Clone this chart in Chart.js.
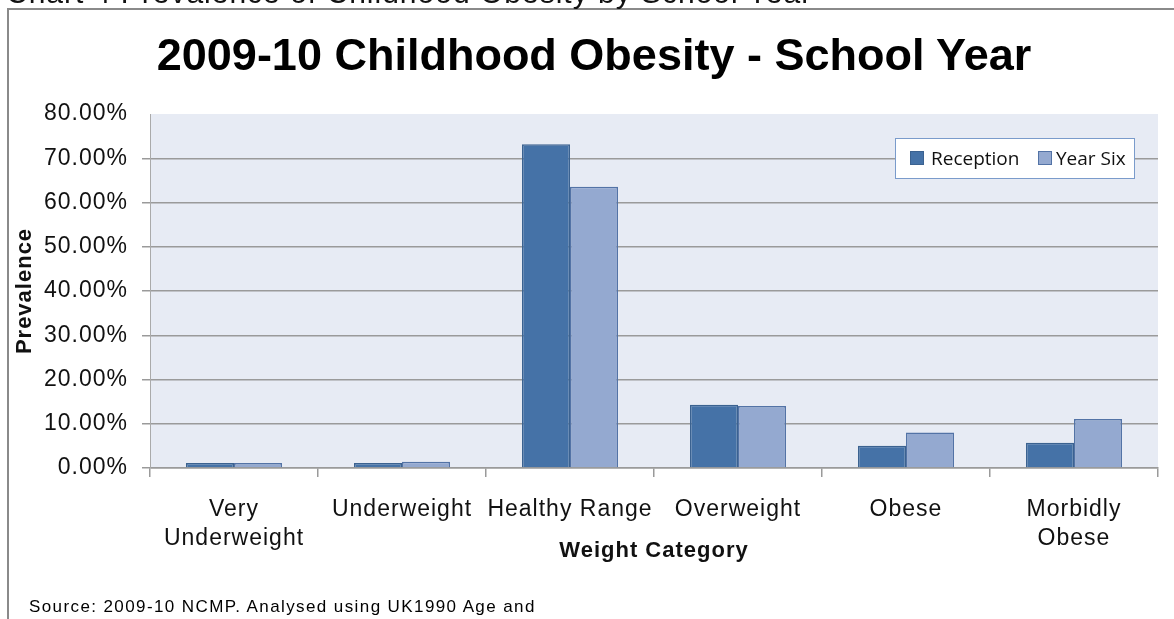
<!DOCTYPE html>
<html>
<head>
<meta charset="utf-8">
<script src="https://cdn.jsdelivr.net/npm/chart.js@4.4.1/dist/chart.umd.min.js"></script>
<style>
  body { margin: 0; overflow: hidden; background: #fff; font-family: "Liberation Sans", Arial, sans-serif; }
  #wrap { position: absolute; left: 0; top: 0; width: 1174px; height: 619px; }
  #frame { position: absolute; left: 7px; top: 8px; width: 1300px; height: 700px; border-top: 2px solid #8a8a8a; border-left: 2px solid #8a8a8a; }
  #caption { position: absolute; left: 6px; top: -22px; font-size: 30px; line-height: 30px; letter-spacing: 1px; color: #111; white-space: nowrap; }
  #title { position: absolute; left: 0; top: 32px; width: 1188px; text-align: center; font-size: 45px; line-height: 45px; font-weight: bold; color: #000; }
  #legend { position: absolute; left: 895px; top: 138px; width: 240px; height: 41px; box-sizing: border-box; border: 1.5px solid #7a9bcb; background: #fff; font-family: "Open Sans", sans-serif; font-size: 19px; color: #111; }
  #legend .sw { position: absolute; top: 12px; width: 14px; height: 14px; box-sizing: border-box; }
  #legend .tx { position: absolute; top: 6px; line-height: 26px; white-space: nowrap; }
  #source { position: absolute; left: 29px; top: 598px; font-size: 17px; line-height: 17px; letter-spacing: 1.4px; color: #000; white-space: nowrap; }
</style>
</head>
<body>
<div id="wrap">
  <canvas id="chartObesity"></canvas>
</div>
<div id="frame"></div>
<div id="caption">Chart 4 Prevalence of Childhood Obesity by School Year</div>
<div id="title">2009-10 Childhood Obesity - School Year</div>
<div id="legend">
  <div class="sw" style="left:14px;background:#4572a7;border:1px solid #3b6290"></div>
  <div class="tx" style="left:35px">Reception</div>
  <div class="sw" style="left:142px;background:#94a9d0;border:1px solid #5373a6"></div>
  <div class="tx" style="left:160px">Year Six</div>
</div>
<div id="source">Source: 2009-10 NCMP. Analysed using UK1990 Age and</div>
<script>
// data (percent)
var categories = [['Very', 'Underweight'], 'Underweight', 'Healthy Range', 'Overweight', 'Obese', ['Morbidly', 'Obese']]
var reception = [1.15, 1.15, 73.15, 14.3, 5.05, 5.7]
var yearSix = [1.15, 1.4, 63.55, 14.0, 8.0, 11.05]
var seriesNames = ['Reception', 'Year Six']
var yMax = 80
var yStep = 10

var fontFamily = '"Liberation Sans", Arial, sans-serif'

// plot background + a little letter spacing like the original
var plotBg = {
  id: 'plotBg',
  beforeDraw: function (chart) {
    var a = chart.chartArea
    var ctx = chart.ctx
    ctx.letterSpacing = '1px'
    ctx.save()
    ctx.fillStyle = '#e7ebf4'
    ctx.fillRect(a.left, a.top, a.right - a.left, a.bottom - a.top)
    ctx.restore()
  }
}

var gridColor = function (c) {
  return c.tick && c.tick.value === yMax ? 'rgba(0,0,0,0)' : '#9a9a9a'
}

var chartObesityCanvas = document.getElementById('chartObesity').getContext('2d')

new Chart(chartObesityCanvas, {
  type: 'bar',
  data: {
    labels: categories,
    datasets: [
      {
        label: seriesNames[0],
        data: reception,
        backgroundColor: '#4572a7',
        borderColor: '#3b6290',
        borderWidth: 1.5
      },
      {
        label: seriesNames[1],
        data: yearSix,
        backgroundColor: '#94a9d0',
        borderColor: '#5373a6',
        borderWidth: 1.5
      }
    ]
  },
  options: {
    responsive: true,
    maintainAspectRatio: false,
    animation: false,
    layout: { padding: { left: 0, right: 16, top: 114, bottom: 0 } },
    datasets: { bar: { barPercentage: 1, categoryPercentage: 0.5714 } },
    plugins: {
      legend: { display: false },
      title: { display: false },
      tooltip: { enabled: false }
    },
    scales: {
      x: {
        grid: { offset: true, drawOnChartArea: false, tickLength: 9, color: '#9a9a9a', lineWidth: 1.5 },
        border: { color: '#9a9a9a', width: 1.5 },
        ticks: {
          autoSkip: false, maxRotation: 0, padding: 18, color: '#111',
          font: { family: fontFamily, size: 23, lineHeight: 1.27 }
        },
        title: {
          display: true, text: 'Weight Category', color: '#111',
          font: { family: fontFamily, size: 22, weight: 'bold', lineHeight: 1.2 },
          padding: { top: 0, bottom: 55 }
        },
        afterFit: function (scale) { scale.height = 151 }
      },
      y: {
        min: 0,
        max: yMax,
        grid: { color: gridColor, tickLength: 8, lineWidth: 1.5 },
        border: { color: '#aaaaaa', width: 1 },
        ticks: {
          stepSize: yStep, padding: 14, color: '#111',
          font: { family: fontFamily, size: 23 },
          callback: function (v) { return v.toFixed(2) + '%' }
        },
        title: {
          display: true, text: 'Prevalence', color: '#111',
          font: { family: fontFamily, size: 22, weight: 'bold', lineHeight: 1.2 },
          padding: { top: 12, bottom: 0 }
        },
        afterFit: function (scale) { scale.width = 150 }
      }
    }
  },
  plugins: [plotBg]
})
</script>
</body>
</html>
